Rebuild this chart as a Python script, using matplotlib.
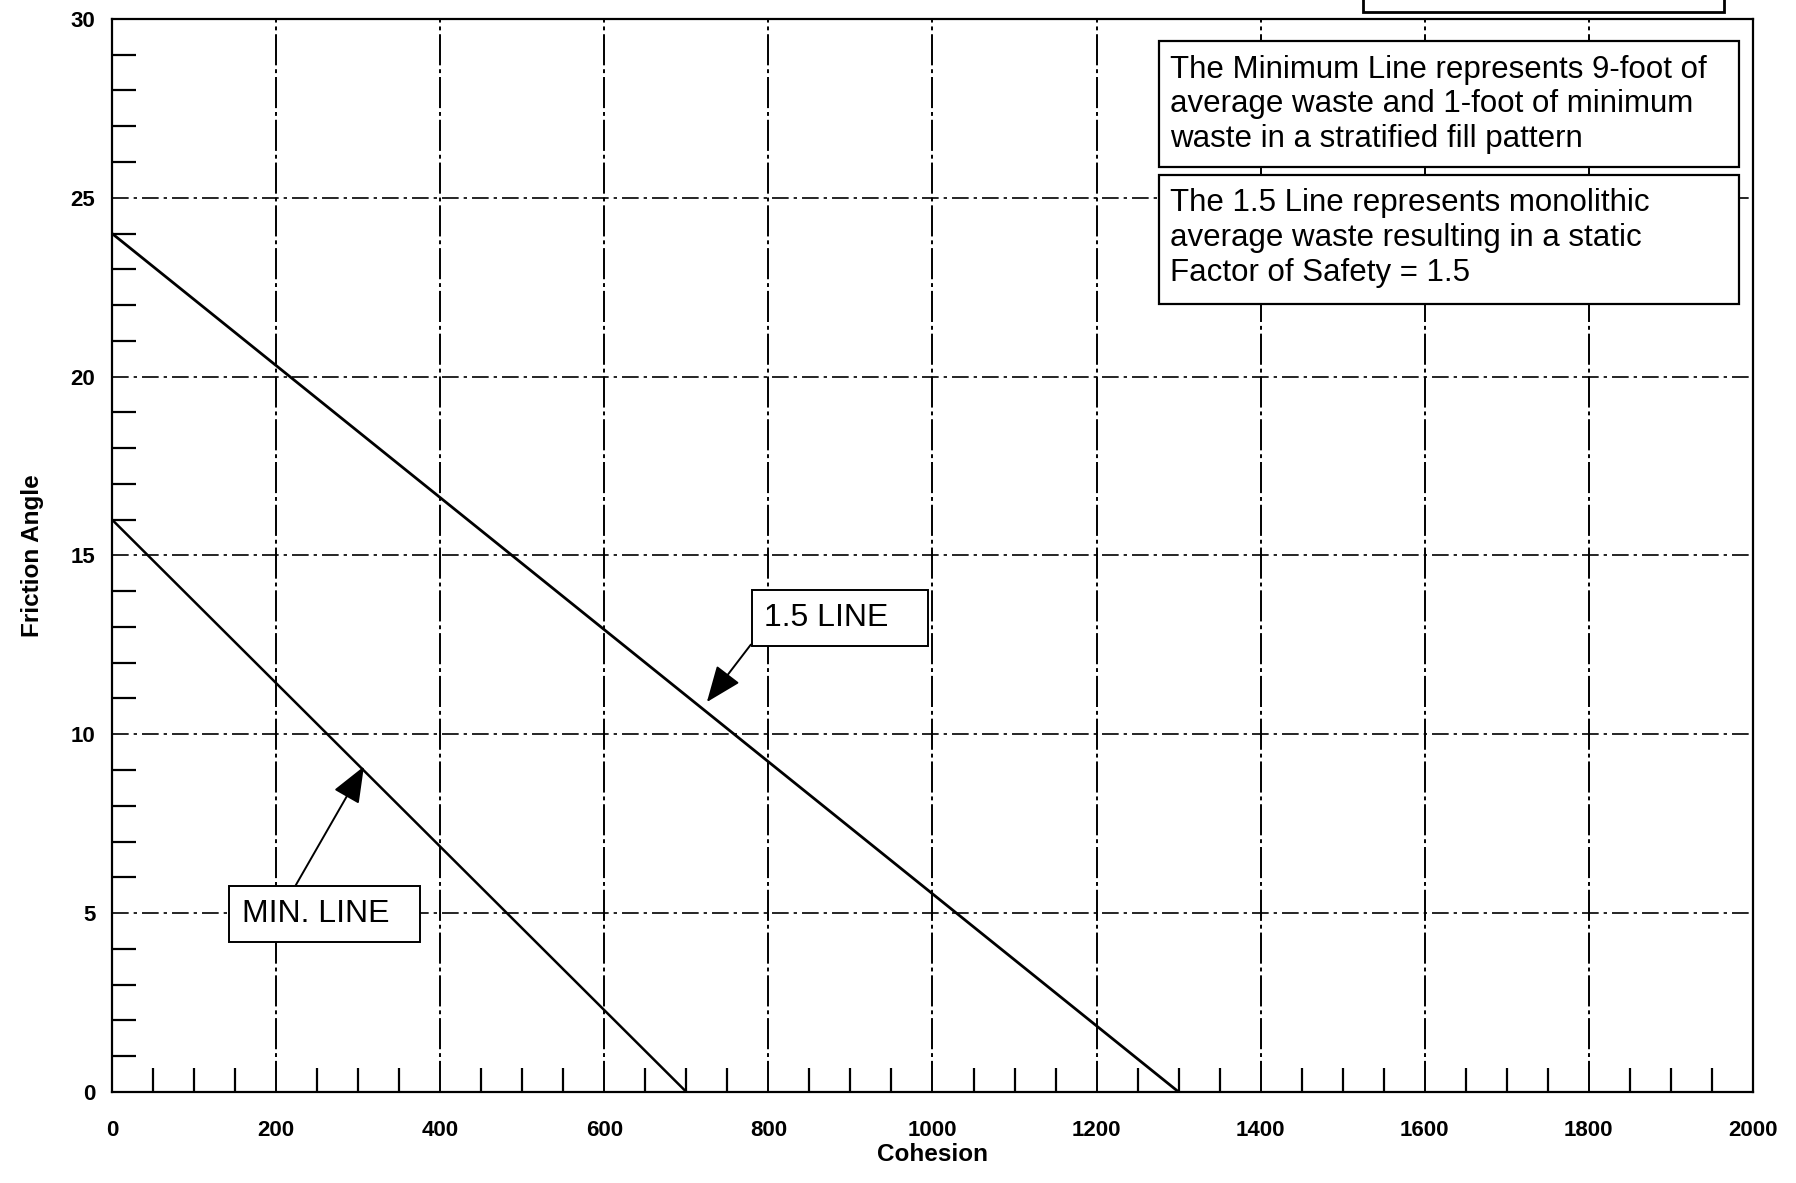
import matplotlib
matplotlib.use('Agg')
import matplotlib.pyplot as plt
from matplotlib.patches import Rectangle
import numpy as np

plt.rcParams['font.family'] = ['Liberation Sans', 'DejaVu Sans']

# end points of the two lines (cohesion, friction angle)
line15_x = [0, 1300]
line15_y = [24, 0]
minline_x = [0, 700]
minline_y = [16, 0]

x_ticks = [0, 200, 400, 600, 800, 1000, 1200, 1400, 1600, 1800, 2000]
y_ticks = [0, 5, 10, 15, 20, 25, 30]

note_min = ("The Minimum Line represents 9-foot of\n"
            "average waste and 1-foot of minimum\n"
            "waste in a stratified fill pattern")
note_15 = ("The 1.5 Line represents monolithic\n"
           "average waste resulting in a static\n"
           "Factor of Safety = 1.5")

fig = plt.figure(figsize=(17.96, 11.83), dpi=100)
ax = fig.add_axes([0.0624, 0.077, 0.9136, 0.907])

ax.set_xlim(0, 2000)
ax.set_ylim(0, 30)

# grid
for x in x_ticks[1:-1]:
    ax.axvline(x, color='black', lw=1.4, ls=(0, (16, 2, 2, 2)), zorder=1)
for y in y_ticks[1:-1]:
    ax.axhline(y, color='black', lw=1.2, ls=(0, (10, 3, 2, 3)), zorder=1)

ax.plot(line15_x, line15_y, color='black', lw=2.0, zorder=3)
ax.plot(minline_x, minline_y, color='black', lw=1.8, zorder=3)

ax.set_xticks(x_ticks)
ax.set_yticks(y_ticks)
ax.set_xticks(np.arange(0, 2001, 50), minor=True)
ax.set_yticks(np.arange(0, 31, 1), minor=True)
ax.tick_params(which='major', length=0, labelsize=16, pad=20)
ax.tick_params(axis='y', which='major', pad=12)
ax.tick_params(which='minor', direction='in', length=17, width=1.6)
for lab in ax.get_xticklabels() + ax.get_yticklabels():
    lab.set_fontweight('bold')
for s in ax.spines.values():
    s.set_linewidth(1.6)

ax.set_xlabel('Cohesion', fontsize=17.5, fontweight='bold', labelpad=2)
ax.set_ylabel('Friction Angle', fontsize=17.5, fontweight='bold', labelpad=19)

# annotations
arrow_style = dict(arrowstyle='-|>,head_length=0.75,head_width=0.3',
                   color='black', lw=1.4, mutation_scale=30,
                   shrinkA=0, shrinkB=0)
ax.annotate('1.5 LINE   ', xy=(725, 10.9), xytext=(795, 13.25),
            fontsize=23, va='center', ha='left',
            bbox=dict(boxstyle='square,pad=0.4', fc='white', ec='black', lw=1.4),
            arrowprops=dict(arrow_style, relpos=(0, 0.2)), zorder=5)
ax.annotate('MIN. LINE  ', xy=(307, 9.1), xytext=(158, 4.98),
            fontsize=23, va='center', ha='left',
            bbox=dict(boxstyle='square,pad=0.4', fc='white', ec='black', lw=1.4),
            arrowprops=dict(arrow_style, relpos=(0.28, 1)), zorder=5)

# note boxes
for (y0, y1), txt in [((25.86, 29.38), note_min), ((22.03, 25.64), note_15)]:
    ax.add_patch(Rectangle((1276, y0), 1983 - 1276, y1 - y0, fc='white',
                           ec='black', lw=1.6, zorder=4))
    ax.text(1290, y1 - 0.38, txt, fontsize=22.5, va='top', ha='left',
            linespacing=1.2, zorder=5)

# cut-off box at the very top
fig.patches.append(Rectangle((1363 / 1796, 1 - 12 / 1183), (1724 - 1363) / 1796,
                             0.05, transform=fig.transFigure, fc='white',
                             ec='black', lw=2.0, clip_on=False))

fig.savefig('out.png', dpi=100)
